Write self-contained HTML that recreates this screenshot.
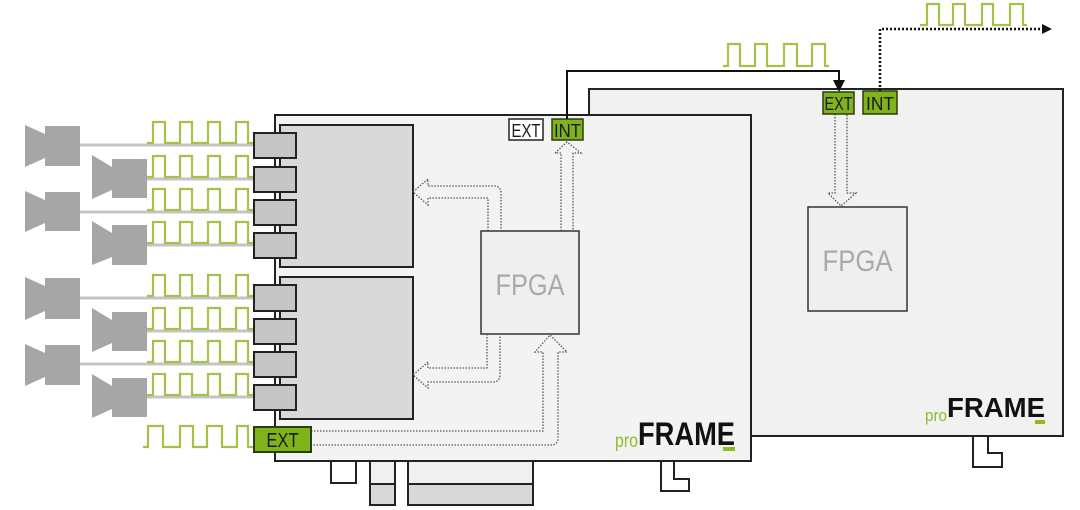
<!DOCTYPE html>
<html><head><meta charset="utf-8"><style>
html,body{margin:0;padding:0;background:#fff;}
svg{display:block;}
text{font-family:"Liberation Sans",sans-serif;}
</style></head><body>
<svg width="1080" height="510" viewBox="0 0 1080 510" xmlns="http://www.w3.org/2000/svg">
<!-- Back card -->
<rect x="589" y="89" width="474" height="347" fill="#f1f1f1" stroke="#222" stroke-width="2"/>
<polygon points="973,436 973,467 1002,467 1002,453 988,453 988,436" fill="#fff" stroke="#222" stroke-width="2"/>
<!-- back FPGA -->
<rect x="808" y="207" width="99" height="104" fill="#efefef" stroke="#333" stroke-width="1.5"/>
<text x="857.5" y="271" font-size="30" fill="#a9a9a9" text-anchor="middle" textLength="70" lengthAdjust="spacingAndGlyphs">FPGA</text>
<!-- back EXT->FPGA arrow -->
<path d="M835,114 V193 H828 L841,206 L856,193 H847 V114" fill="none" stroke="#555" stroke-width="1.3" stroke-dasharray="1.5 1.5"/>
<!-- back EXT/INT -->
<rect x="823" y="92" width="31" height="22" fill="#80b21e" stroke="#2c3d0c" stroke-width="1.5"/>
<text x="838.5" y="110" font-size="18" fill="#1a1a1a" text-anchor="middle" textLength="28" lengthAdjust="spacingAndGlyphs">EXT</text>
<rect x="863" y="91" width="34" height="23" fill="#80b21e" stroke="#2c3d0c" stroke-width="1.5"/>
<text x="880" y="110" font-size="18" fill="#1a1a1a" text-anchor="middle" textLength="28" lengthAdjust="spacingAndGlyphs">INT</text>
<!-- back logo -->
<text x="925" y="421" font-size="17" fill="#8dbb2c" textLength="22" lengthAdjust="spacingAndGlyphs">pro</text>
<text x="947" y="417" font-size="28" font-weight="bold" fill="#111" textLength="98" lengthAdjust="spacingAndGlyphs">FRAME</text>
<rect x="1035" y="420" width="10" height="4" fill="#8dbb2c"/>

<!-- Front card bottom tabs -->
<rect x="331" y="461" width="25" height="22" fill="#fff" stroke="#222" stroke-width="2"/>
<rect x="370" y="461" width="25" height="23" fill="#f0f0f0" stroke="#222" stroke-width="2"/>
<rect x="370" y="484" width="25" height="21" fill="#d8d8d8" stroke="#222" stroke-width="2"/>
<rect x="408" y="461" width="125" height="23" fill="#f0f0f0" stroke="#222" stroke-width="2"/>
<rect x="408" y="484" width="125" height="21" fill="#d8d8d8" stroke="#222" stroke-width="2"/>
<polygon points="661,461 661,491 689,491 689,479 674,479 674,461" fill="#fff" stroke="#222" stroke-width="2"/>
<!-- Front card -->
<rect x="275" y="115" width="476" height="346" fill="#f3f3f3" stroke="#222" stroke-width="2"/>
<!-- sub boxes -->
<rect x="280" y="125" width="133" height="142" fill="#d9d9d9" stroke="#222" stroke-width="2"/>
<rect x="280" y="277" width="133" height="142" fill="#d9d9d9" stroke="#222" stroke-width="2"/>
<!-- front FPGA -->
<rect x="481" y="231" width="98" height="103" fill="#efefef" stroke="#333" stroke-width="1.5"/>
<text x="530" y="295" font-size="30" fill="#a9a9a9" text-anchor="middle" textLength="69" lengthAdjust="spacingAndGlyphs">FPGA</text>
<!-- dotted arrows -->
<g fill="none" stroke="#555" stroke-width="1.3" stroke-dasharray="1.5 1.5">
<path d="M488,231 V198 H428 V205 L413,192 L428,179 V186 H494 Q501,186 501,193 V231"/>
<path d="M487,334 V368 H428 V362 L413,375 L428,388 V382 H493 Q500,382 500,375 V334"/>
<path d="M561,231 V153 H555 L567,142 L581,153 H573 V231"/>
<path d="M311,431 H543 V352 H535 L550,335 L567,352 H558 V438 Q558,445 551,445 H311"/>
</g>
<!-- front EXT/INT -->
<rect x="509" y="119" width="34" height="21" fill="#fff" stroke="#222" stroke-width="1.5"/>
<text x="526" y="137" font-size="18" fill="#1a1a1a" text-anchor="middle" textLength="29" lengthAdjust="spacingAndGlyphs">EXT</text>
<rect x="552" y="119" width="31" height="21" fill="#80b21e" stroke="#2c3d0c" stroke-width="1.5"/>
<text x="567.5" y="137" font-size="18" fill="#1a1a1a" text-anchor="middle" textLength="27" lengthAdjust="spacingAndGlyphs">INT</text>
<!-- front logo -->
<text x="615" y="447" font-size="19" fill="#8dbb2c" textLength="23" lengthAdjust="spacingAndGlyphs">pro</text>
<text x="638" y="445" font-size="32" font-weight="bold" fill="#111" textLength="97" lengthAdjust="spacingAndGlyphs">FRAME</text>
<rect x="723" y="447" width="12" height="4" fill="#8dbb2c"/>

<!-- connection INT -> back EXT -->
<path d="M567,119 V71 H839 V82" fill="none" stroke="#111" stroke-width="2"/>
<polygon points="833,80 845,80 839,92" fill="#111"/>
<!-- dotted output from back INT -->
<path d="M880,91 V29 H1043" fill="none" stroke="#111" stroke-width="2.5" stroke-dasharray="2 2"/>
<polygon points="1042,24 1042,34 1052,29" fill="#111"/>

<!-- cameras -->
<g fill="#a6a6a6">
<path d="M45,126 H80 V166 H45 V158 L25,167 V125 L45,134 Z"/>
<path d="M112,159 H147 V198 H112 V190 L92,199 V155 L112,167 Z"/>
<path d="M45,192 H80 V231 H45 V223 L25,232 V191 L45,200 Z"/>
<path d="M112,225 H147 V265 H112 V257 L92,265 V221 L112,233 Z"/>
<path d="M45,278 H80 V319 H45 V311 L25,320 V277 L45,286 Z"/>
<path d="M112,312 H147 V351 H112 V343 L92,352 V308 L112,320 Z"/>
<path d="M45,345 H80 V385 H45 V377 L25,386 V344 L45,353 Z"/>
<path d="M112,378 H147 V417 H112 V409 L92,418 V374 L112,386 Z"/>
</g>
<!-- cables -->
<g stroke="#c4c4c4" stroke-width="3" fill="none">
<path d="M80,145 H256"/>
<path d="M147,179 H256"/>
<path d="M80,212 H256"/>
<path d="M147,245 H256"/>
<path d="M80,298 H256"/>
<path d="M147,331 H256"/>
<path d="M80,364 H256"/>
<path d="M147,397 H256"/>
</g>
<!-- waves -->
<g fill="none" stroke="#a4c24a" stroke-width="2.2" stroke-linejoin="miter">
<path d="M147,143 H153 V122 H165 V143 H180 V122 H192 V143 H208 V122 H220 V143 H236 V122 H248 V143 H254"/>
<path d="M147,177 H153 V156 H165 V177 H180 V156 H192 V177 H208 V156 H220 V177 H236 V156 H248 V177 H254"/>
<path d="M147,210 H153 V189 H165 V210 H180 V189 H192 V210 H208 V189 H220 V210 H236 V189 H248 V210 H254"/>
<path d="M147,243 H153 V222 H165 V243 H180 V222 H192 V243 H208 V222 H220 V243 H236 V222 H248 V243 H254"/>
<path d="M147,296 H153 V275 H165 V296 H180 V275 H192 V296 H208 V275 H220 V296 H236 V275 H248 V296 H254"/>
<path d="M147,329 H153 V308 H165 V329 H180 V308 H192 V329 H208 V308 H220 V329 H236 V308 H248 V329 H254"/>
<path d="M147,362 H153 V341 H165 V362 H180 V341 H192 V362 H208 V341 H220 V362 H236 V341 H248 V362 H254"/>
<path d="M147,395 H153 V374 H165 V395 H180 V374 H192 V395 H208 V374 H220 V395 H236 V374 H248 V395 H254"/>
<path d="M143,447 H148 V426 H163 V447 H180 V426 H193 V447 H207 V426 H222 V447 H237 V426 H248 V447 H254"/>
<path d="M723,66 H728 V44 H740 V66 H755 V44 H767 V66 H784 V44 H797 V66 H812 V44 H825 V66 H829"/>
<path d="M920,25 H927 V4 H939 V25 H953 V4 H965 V25 H982 V4 H993 V25 H1010 V4 H1023 V25 H1027"/>
</g>
<!-- connectors -->
<g fill="#c6c6c6" stroke="#222" stroke-width="2">
<rect x="254" y="133" width="42" height="25"/>
<rect x="254" y="167" width="42" height="25"/>
<rect x="254" y="200" width="42" height="25"/>
<rect x="254" y="233" width="42" height="25"/>
<rect x="254" y="285" width="42" height="26"/>
<rect x="254" y="319" width="42" height="25"/>
<rect x="254" y="352" width="42" height="25"/>
<rect x="254" y="385" width="42" height="25"/>
</g>
<!-- bottom EXT -->
<rect x="254" y="427" width="57" height="25" fill="#80b21e" stroke="#2c3d0c" stroke-width="2"/>
<text x="282.5" y="447" font-size="20" fill="#1a1a1a" text-anchor="middle" textLength="32" lengthAdjust="spacingAndGlyphs">EXT</text>
</svg>
</body></html>
